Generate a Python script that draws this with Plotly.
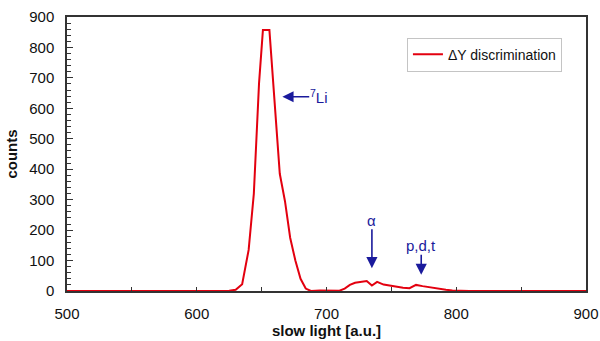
import plotly.graph_objects as go

# Data
slow_light = [500, 620, 625, 630, 635, 640, 644, 648, 651, 656, 660, 664, 668, 672, 676,
              680, 684, 688, 695, 700, 710, 714, 718, 722, 727, 731, 735, 739, 744, 749,
              754, 759, 764, 769, 774, 778, 782, 787, 792, 797, 802, 810, 900]
counts = [0, 0, 1, 4, 22, 135, 320, 682, 857, 857, 621, 385, 295, 175, 100,
          40, 8, 0, 2, 1, 1, 8, 20, 27, 31, 33, 18, 30, 21, 17,
          14, 11, 9, 20, 16, 13, 9, 7, 4, 2, 1, 0, 0]

series_name = "ΔY discrimination"
x_ticks = [500, 600, 700, 800, 900]
y_ticks = [0, 100, 200, 300, 400, 500, 600, 700, 800, 900]

# Annotation labels: (text, text-centre x, text-centre y, arrow head x, head y)
labels = [
    ("<sup>7</sup>Li", 694, 638, 666, 638),
    ("α", 735, 232, 735, 75),
    ("p,d,t", 773, 149, 773, 53),
]

FONT = "Arial, 'Liberation Sans', sans-serif"
NAVY = "#1a1a9c"
RED = "#e3000f"

fig = go.Figure()
fig.add_trace(go.Scatter(x=slow_light, y=counts, mode="lines", name=series_name,
                         line=dict(color=RED, width=2)))

for text, tx, ty, hx, hy in labels:
    fig.add_annotation(x=hx, y=hy, ax=tx, ay=ty, xref="x", yref="y", axref="x", ayref="y",
                       text=text, showarrow=True, arrowhead=2, arrowsize=1.4, arrowwidth=1.6,
                       arrowcolor=NAVY, borderpad=0,
                       font=dict(family=FONT, size=15, color=NAVY))

fig.update_layout(
    width=600, height=341,
    margin=dict(l=67, r=14, t=17, b=50),
    paper_bgcolor="white", plot_bgcolor="white",
    font=dict(family=FONT, size=15, color="#111"),
    showlegend=True,
    legend=dict(x=0.655, y=0.925, xanchor="left", yanchor="top",
                bgcolor="white", bordercolor="#c4c4c4", borderwidth=1,
                font=dict(family=FONT, size=14, color="#111"),
                tracegroupgap=0, itemwidth=30),
)
fig.update_xaxes(
    range=[500, 900], tickvals=x_ticks, ticks="inside", ticklen=4, tickcolor="#333",
    showline=True, linecolor="#333", linewidth=1.5, mirror=True, showgrid=False, zeroline=False,
    minor=dict(dtick=50, ticks="inside", ticklen=4, tickcolor="#333", showgrid=False),
    title=dict(text="<b>slow light [a.u.]</b>", font=dict(family=FONT, size=15), standoff=4),
    tickfont=dict(size=15), ticklabelstandoff=8, automargin=False,
)
fig.update_yaxes(
    range=[0, 900], tickvals=y_ticks, ticks="inside", ticklen=6, tickcolor="#333",
    showline=True, linecolor="#333", linewidth=1.5, mirror=True, showgrid=False, zeroline=False,
    minor=dict(dtick=20, ticks="inside", ticklen=4, tickcolor="#333", showgrid=False),
    title=dict(text="<b>counts</b>", font=dict(family=FONT, size=15), standoff=8),
    tickfont=dict(size=15), ticklabelstandoff=8, automargin=False,
)

fig.write_html("out.html", config={"displayModeBar": False},
               post_script="document.body.style.margin='0';")
